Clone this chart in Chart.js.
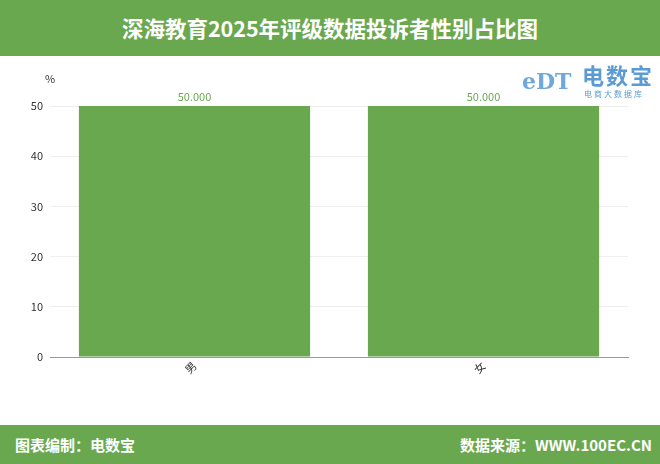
<!DOCTYPE html>
<html>
<head>
<meta charset="utf-8">
<script src="https://cdn.jsdelivr.net/npm/chart.js@4"></script>
<style>
    body { margin: 0; width: 660px; height: 464px; background: #fff; font-family: "Noto Sans CJK SC", "Noto Sans", sans-serif; position: relative; overflow: hidden; }
    .header { position: absolute; left: 0; top: 0; width: 660px; height: 56px; background: #6aa84f; color: #fff; font-weight: bold; font-size: 21.5px; line-height: 56px; text-align: center; }
    .footer { position: absolute; left: 0; top: 425px; width: 660px; height: 39px; background: #6aa84f; color: #fff; font-weight: bold; font-size: 15px; line-height: 39px; }
    .footer .left { position: absolute; left: 15px; }
    .footer .right { position: absolute; right: 8px; }
    .chart-box { position: absolute; left: 0; top: 56px; width: 660px; height: 369px; }
    .logo { position: absolute; left: 520px; top: 58px; width: 140px; height: 46px; }
    .logo .main { position: absolute; left: 62px; top: 0; font-size: 22px; font-weight: bold; color: #5b9bd5; letter-spacing: 2px; }
    .logo .sub { position: absolute; left: 64px; top: 30px; font-size: 8px; color: #5b9bd5; letter-spacing: 2px; }
    .logo .mark { position: absolute; left: 2px; top: 10px; font-size: 22px; font-weight: bold; color: #6fa8dc; font-family: "DejaVu Serif", serif; }
</style>
</head>
<body>
<div class="header">深海教育2025年评级数据投诉者性别占比图</div>
<div class="chart-box"><canvas id="chart" width="660" height="369"></canvas></div>
<div class="logo"><span class="mark">eDT</span><span class="main">电数宝</span><span class="sub">电商大数据库</span></div>
<div class="footer"><span class="left">图表编制：电数宝</span><span class="right">数据来源：WWW.100EC.CN</span></div>
<script>
const categories = ["男", "女"];
const shareValues = [50, 50];
const yTicks = [0, 10, 20, 30, 40, 50];

const barGreen = "#6aa84f";

// draws the value above each bar and the unit above the y axis
const labelPlugin = {
    id: "labels",
    afterDatasetsDraw(chart) {
        const ctx = chart.ctx;
        ctx.save();
        ctx.font = "11px 'Noto Sans CJK SC', sans-serif";
        ctx.fillStyle = barGreen;
        ctx.textAlign = "center";
        ctx.textBaseline = "bottom";
        chart.getDatasetMeta(0).data.forEach((bar, i) => {
            ctx.fillText(shareValues[i].toFixed(3), bar.x, bar.y - 4);
        });
        ctx.fillStyle = "#333";
        ctx.fillText("%", chart.chartArea.left, chart.chartArea.top - 22);
        ctx.restore();
    }
};

new Chart(document.getElementById("chart").getContext("2d"), {
    type: "bar",
    data: {
        labels: categories,
        datasets: [{
            data: shareValues,
            backgroundColor: barGreen,
            barPercentage: 0.8,
            categoryPercentage: 1
        }]
    },
    options: {
        responsive: false,
        animation: false,
        layout: { padding: { top: 50, right: 32, left: 0, bottom: 0 } },
        plugins: {
            legend: { display: false },
            tooltip: { enabled: false }
        },
        scales: {
            x: {
                grid: { display: false },
                border: { color: "#999" },
                ticks: {
                    color: "#333",
                    padding: -6,
                    font: { size: 11, family: "'Noto Sans CJK SC', sans-serif" },
                    minRotation: 45,
                    maxRotation: 45
                },
                afterFit(scale) { scale.height = 68; }
            },
            y: {
                min: 0,
                max: 50,
                afterBuildTicks(scale) { scale.ticks = yTicks.map(v => ({ value: v })); },
                border: { display: false },
                grid: {
                    color: ctx => ctx.tick && ctx.tick.value === 0 ? "#999" : "#eeeeee",
                    drawTicks: false
                },
                ticks: {
                    color: "#333",
                    padding: 7,
                    font: { size: 11, family: "'Noto Sans CJK SC', sans-serif" }
                },
                afterFit(scale) { scale.width = 50; }
            }
        }
    },
    plugins: [labelPlugin]
});
</script>
</body>
</html>
